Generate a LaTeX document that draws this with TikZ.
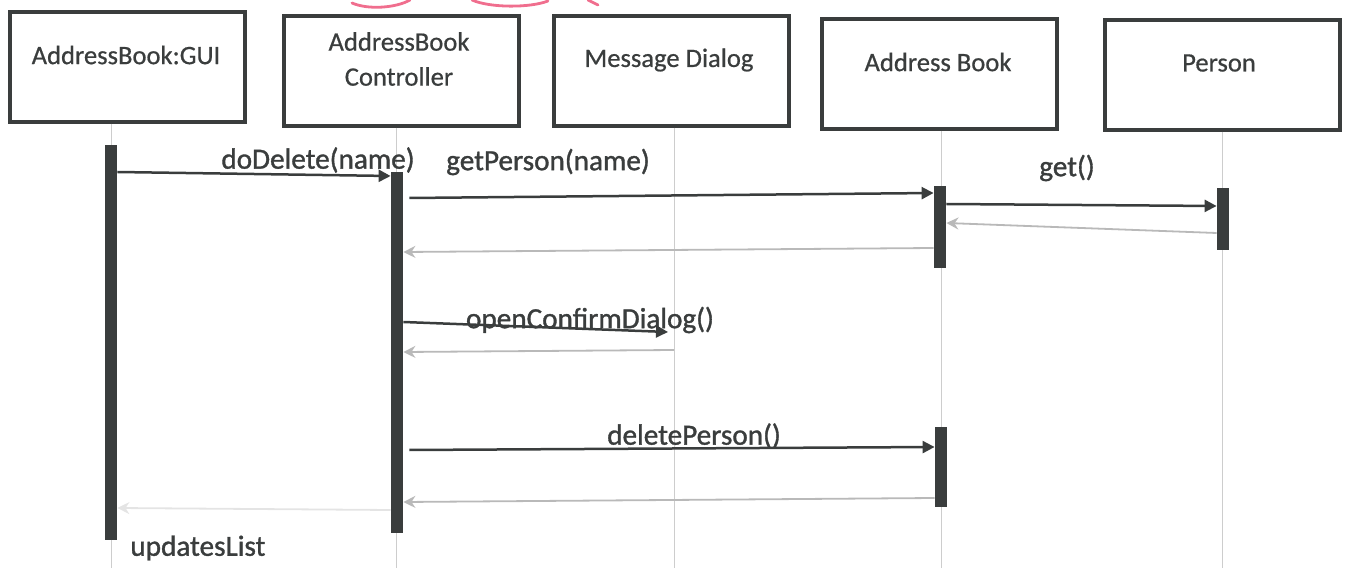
\documentclass[tikz,border=0pt]{standalone}
\usepackage{fontspec}
\setmainfont{Carlito}
\newfontfamily\objfont{Carlito}[FakeBold=0.6]
\newfontfamily\msgfont{Carlito}[FakeBold=1.2]
\usetikzlibrary{arrows.meta,positioning,calc}
\definecolor{ink}{HTML}{3A3D3D}
\definecolor{lifec}{HTML}{CDCDCD}
\definecolor{retc}{HTML}{B9B9B9}
\definecolor{faint}{HTML}{E4E4E4}
\definecolor{scrib}{HTML}{F06E8E}
\tikzset{
  obj/.style={draw=ink, line width=2pt, minimum width=117.5pt,
              minimum height=55pt, anchor=north west, inner sep=0pt},
  objlbl/.style={font=\objfont\fontsize{13.3}{17.5}\selectfont, text=ink, align=center},
  life/.style={draw=lifec, line width=0.5pt},
  actv/.style={fill=ink, draw=none, minimum width=6pt, inner sep=0pt, anchor=north},
  msg/.style={-{Triangle[length=6pt,width=6pt]}, line width=1.25pt, draw=ink},
  ret/.style={-{Stealth[length=6pt,width=6pt]}, line width=0.9pt, draw=retc},
  mlbl/.style={font=\msgfont\fontsize{14.6}{17}\selectfont, text=ink, inner sep=1pt},
  scribble/.style={draw=scrib, line width=1.4pt, line cap=round},
}
\begin{document}
\begin{tikzpicture}[x=0.5pt, y=-0.5pt]
  \useasboundingbox (0,0) rectangle (1345,572);

  % --- objects ---
  \node[obj] (guibox) at (8,10) {};
  \node[obj] (ctlbox) at (282,14) {};
  \node[obj] (dlgbox) at (552,14) {};
  \node[obj] (abbox)  at (820,17) {};
  \node[obj] (perbox) at (1103,18) {};

  \node[objlbl] (guitxt) at (126,55) {AddressBook:GUI};
  \node[objlbl] (ctltxt) at (399,59) {AddressBook\\Controller};
  \node[objlbl] (dlgtxt) at (669,60) {Message Dialog};
  \node[objlbl] (abtxt)  at (938,62) {Address Book};
  \node[objlbl] (pertxt) at (1219,63) {Person};

  % a few stray pink strokes along the top edge
  \draw[scribble] (352,3) .. controls (368,10) and (396,8) .. (410,0);
  \draw[scribble] (472,0) .. controls (490,8) and (530,8) .. (548,1);
  \draw[scribble] (588,0) -- (598,5);

  % --- lifelines ---
  \foreach \b/\x in {gui/111, ctl/396, dlg/674, ab/941, per/1222}
    \coordinate (\b line) at (\x,568);
  \foreach \b in {gui, ctl, dlg, ab, per}
    \draw[life] (\b box.south -| \b line) -- (\b line);

  % --- activation bars ---
  \node[actv, minimum height=197.5pt] (guiact) at (111,145) {};
  \node[actv, minimum height=180.5pt] (ctlact) at (397,172) {};
  \node[actv, minimum height=41pt]    (abact1) at (940,186) {};
  \node[actv, minimum height=31pt]    (peract) at (1223,188) {};
  \node[actv, minimum height=40pt]    (abact2) at (941,427) {};

  % --- messages ---
  \draw[msg] (guiact.east |- 0,172) -- (ctlact.west |- 0,176);
  \draw[msg] ([xshift=3pt]ctlact.east |- 0,198) -- (abact1.west |- 0,193);
  \draw[msg] (abact1.east |- 0,204) -- (peract.west |- 0,206);
  \draw[ret] (peract.west |- 0,233) -- (abact1.east |- 0,223);
  \draw[ret] (abact1.west |- 0,248) -- (ctlact.east |- 0,252);
  \draw[msg] (ctlact.east |- 0,322) -- ([xshift=-3pt]dlgline |- 0,332);
  \draw[ret] (dlgline |- 0,350) -- (ctlact.east |- 0,352);
  \draw[msg] ([xshift=3pt]ctlact.east |- 0,450) -- (abact2.west |- 0,447);
  \draw[ret] (abact2.west |- 0,498) -- (ctlact.east |- 0,502);
  \draw[ret, draw=faint] (ctlact.west |- 0,510) -- (guiact.east |- 0,508);

  % --- message labels ---
  \node[mlbl] (ldel)  at (318,160)  {doDelete(name)};
  \node[mlbl] (lgetp) at (548,162)  {getPerson(name)};
  \node[mlbl] (lget)  at (1067,168) {get()};
  \node[mlbl] (lopen) at (590,320)  {openConfirmDialog()};
  \node[mlbl] (ldelp) at (694,436)  {deletePerson()};
  \node[mlbl, anchor=west] (lupd) at (128,548) {updatesList};
\end{tikzpicture}
\end{document}
